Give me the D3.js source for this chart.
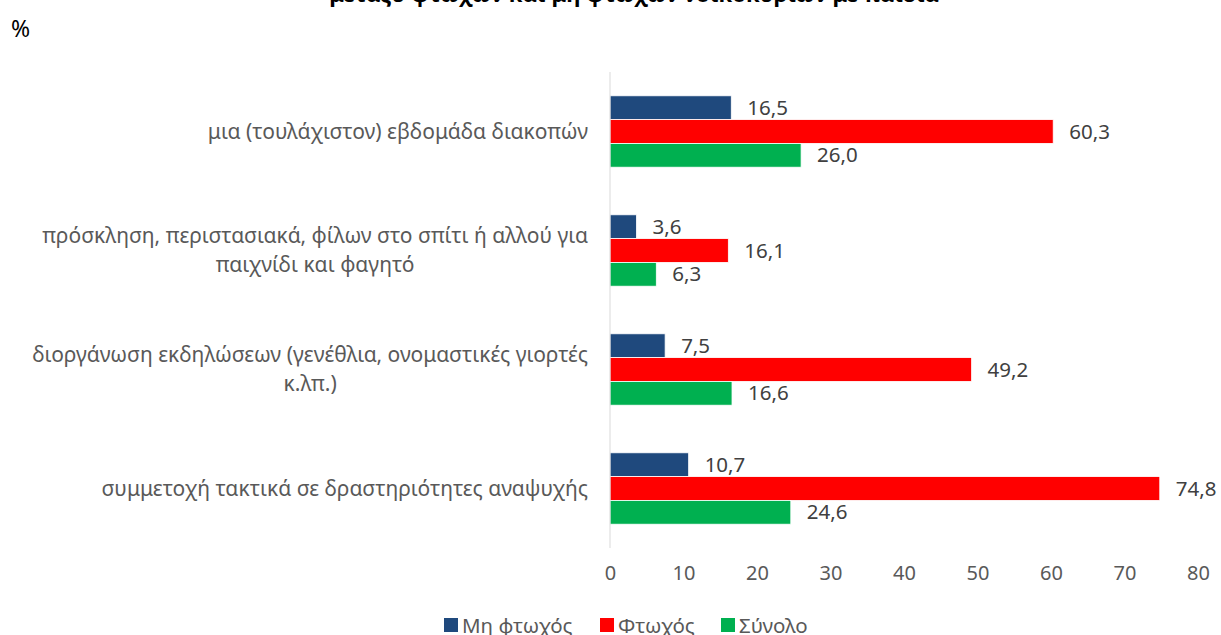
<!DOCTYPE html>
<html><head><meta charset="utf-8">
<script src="https://cdn.jsdelivr.net/npm/d3@7"></script>
<style>body{margin:0;background:#fff}svg{display:block}</style>
</head><body>
<svg id="c" width="1221" height="635"></svg>
<script>
const titleText = "μεταξύ φτωχών και μη φτωχών νοικοκυριών με παιδιά";
const unitLabel = "%";
const categories = [
  ["μια (τουλάχιστον) εβδομάδα διακοπών"],
  ["πρόσκληση, περιστασιακά, φίλων στο σπίτι ή αλλού για", "παιχνίδι και φαγητό"],
  ["διοργάνωση εκδηλώσεων (γενέθλια, ονομαστικές γιορτές", "κ.λπ.)"],
  ["συμμετοχή τακτικά σε δραστηριότητες αναψυχής"]
];
const seriesNames = ["Μη φτωχός", "Φτωχός", "Σύνολο"];
const nonPoor = [16.5, 3.6, 7.5, 10.7];
const poor = [60.3, 16.1, 49.2, 74.8];
const total = [26.0, 6.3, 16.6, 24.6];
const xTicks = [0, 10, 20, 30, 40, 50, 60, 70, 80];
const colors = ["#1F497D", "#FF0000", "#00B050"];

const seriesValues = [nonPoor, poor, total];
const FONT = "'Noto Sans', 'Open Sans', sans-serif";
const svg = d3.select("#c").style("font-family", FONT);

const x = d3.scaleLinear().domain([0, 80]).range([610, 1198]);
const y = d3.scaleBand().domain(d3.range(categories.length)).range([72, 548]).paddingInner(0.4).paddingOuter(0.2);
const ys = d3.scaleBand().domain(d3.range(seriesNames.length)).range([0, y.bandwidth()]);

// title (cropped at top, as in the reference)
svg.append("text").attr("x", 634).attr("y", 1.5).attr("text-anchor", "middle")
  .attr("font-size", 22).attr("font-weight", "bold").attr("fill", "#000").text(titleText);
svg.append("text").attr("x", 11).attr("y", 37).attr("font-size", 23).attr("fill", "#000").text(unitLabel);

// bars
categories.forEach((cat, i) => {
  const g = svg.append("g").attr("transform", `translate(0,${y(i)})`);
  seriesValues.forEach((vals, s) => {
    const v = vals[i];
    g.append("rect").attr("x", x(0)).attr("y", ys(s)).attr("width", x(v) - x(0)).attr("height", ys.bandwidth())
      .attr("fill", colors[s]).attr("stroke", "#fff").attr("stroke-width", 0.8);
    g.append("text").attr("x", x(v) + 16).attr("y", ys(s) + ys.bandwidth() / 2).attr("dy", "0.35em")
      .attr("font-size", 20.5).attr("fill", "#404040").text(d3.format(".1f")(v).replace(".", ","));
  });
});

// category axis line
svg.append("line").attr("x1", x(0)).attr("x2", x(0)).attr("y1", 72).attr("y2", 548).attr("stroke", "#D9D9D9").attr("stroke-width", 1);

// category labels
categories.forEach((lines, i) => {
  const cy = y(i) + y.bandwidth() / 2;
  const lh = 29;
  const t = svg.append("text").attr("font-size", 21).attr("fill", "#595959");
  const tsp = lines.map((l, k) => t.append("tspan").attr("y", cy + (k - (lines.length - 1) / 2) * lh).attr("dy", "0.35em").text(l));
  const widths = tsp.map(s => s.node().getComputedTextLength());
  const maxW = d3.max(widths);
  const right = 588;
  if (lines.length === 1) {
    tsp[0].attr("x", right).attr("text-anchor", "end");
    t.attr("text-anchor", "end");
  } else {
    t.attr("text-anchor", "middle");
    tsp.forEach(s => s.attr("x", right - maxW / 2));
  }
});

// x axis
const xAxis = d3.axisBottom(x).tickValues(xTicks).tickSize(0).tickPadding(0);
const ax = svg.append("g").attr("transform", "translate(0,573)").call(xAxis);
ax.select(".domain").remove();
ax.selectAll("text").attr("font-size", 20).attr("fill", "#595959").attr("font-family", FONT).attr("dy", "0.35em");

// legend
const legendX = [444, 600, 721];
seriesNames.forEach((n, s) => {
  svg.append("rect").attr("x", legendX[s]).attr("y", 618).attr("width", 14).attr("height", 14).attr("fill", colors[s]);
  svg.append("text").attr("x", legendX[s] + 18).attr("y", 626).attr("dy", "0.35em").attr("font-size", 20.5).attr("fill", "#595959").text(n);
});
</script>
</body></html>
